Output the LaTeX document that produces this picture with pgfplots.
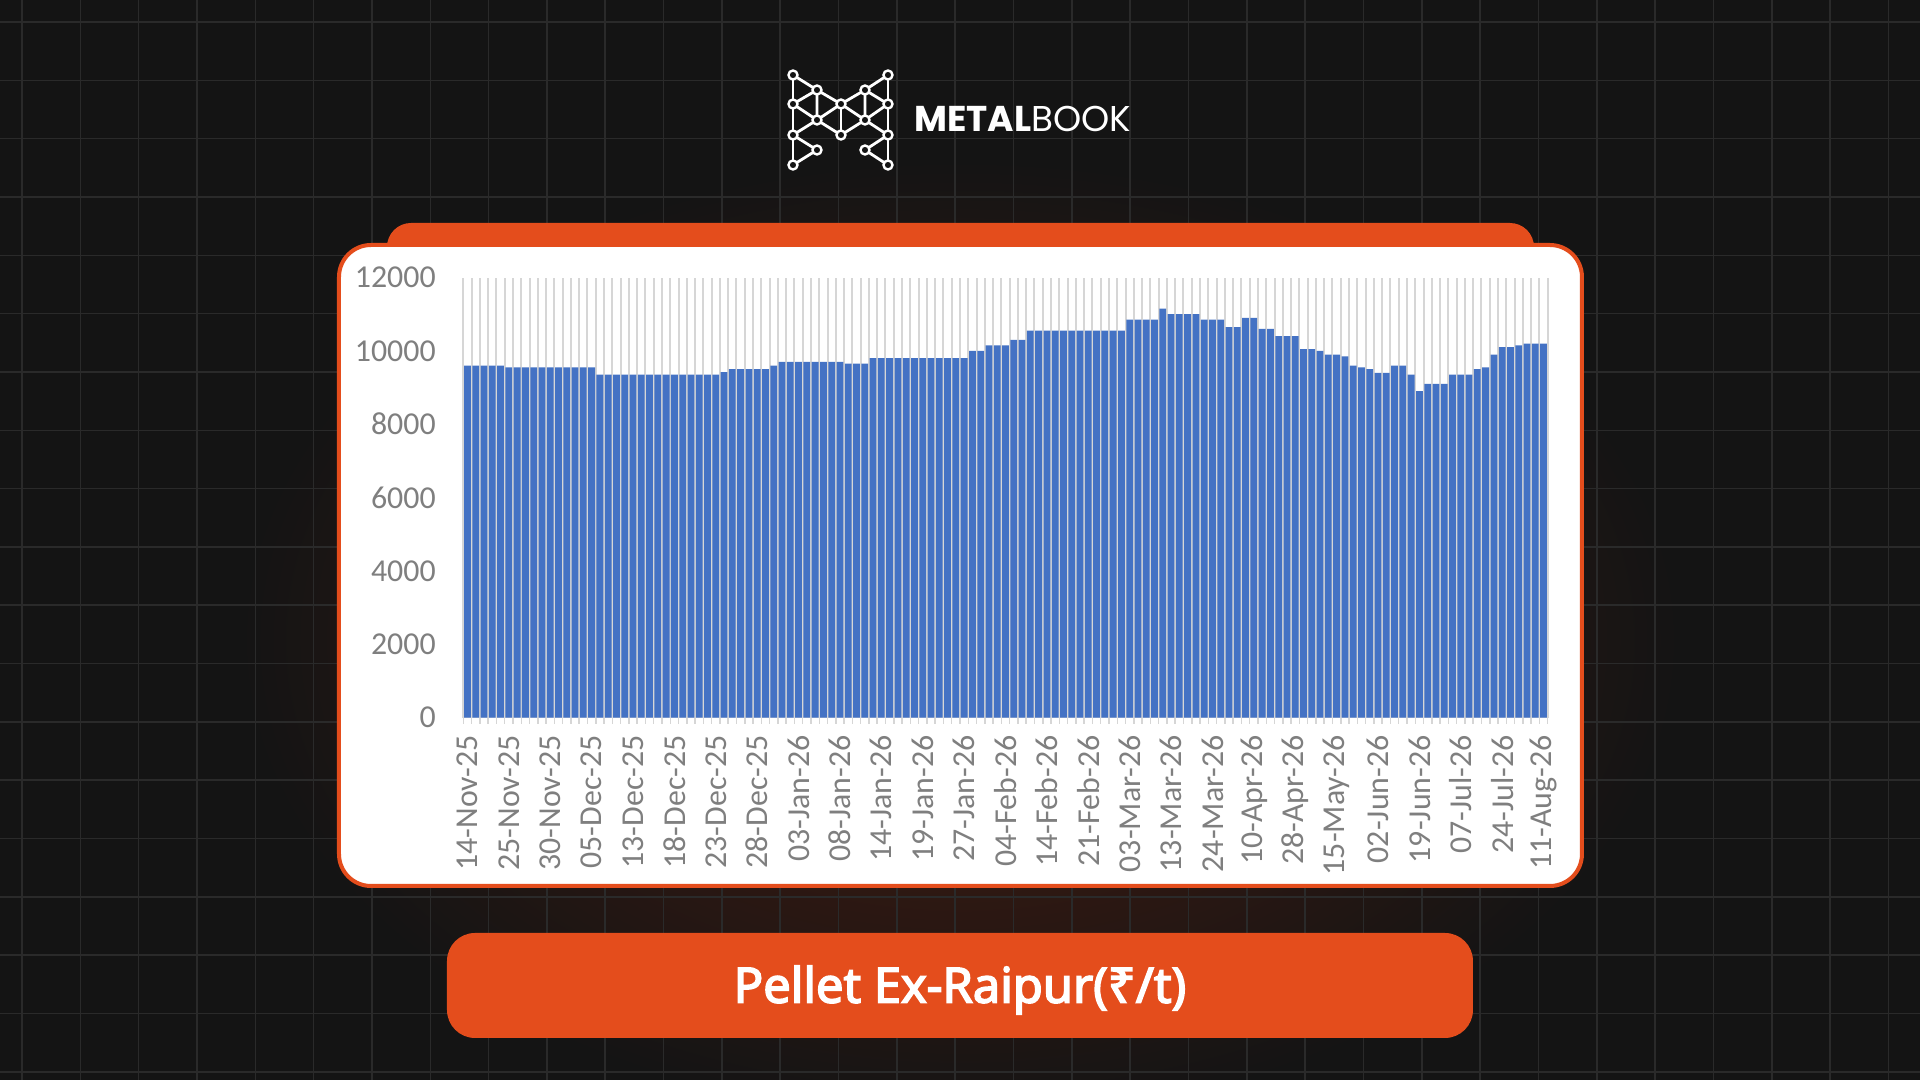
\documentclass[border=0pt]{standalone}
\usepackage{fontspec}
\usepackage{pgfplots}
\usepackage{pgfplotstable}
\pgfplotsset{compat=1.18}
\setmainfont{Carlito}
\newfontfamily\carlito{Carlito}
\newfontfamily\titlefont[FakeBold=3.2]{Noto Sans}
\newfontfamily\logofont{Poppins}
\definecolor{bg}{HTML}{141414}
\definecolor{gridc}{HTML}{2A2A2A}
\definecolor{orng}{HTML}{E44D1C}
\definecolor{barblue}{HTML}{4472C4}
\definecolor{tickgray}{HTML}{7F7F7F}
\definecolor{glow}{HTML}{4A1C10}
\definecolor{vgrid}{HTML}{D6D6D6}

\pgfplotstableread{
i v
0 9600
1 9600
2 9600
3 9600
4 9600
5 9550
6 9550
7 9550
8 9550
9 9550
10 9550
11 9550
12 9550
13 9550
14 9550
15 9550
16 9350
17 9350
18 9350
19 9350
20 9350
21 9350
22 9350
23 9350
24 9350
25 9350
26 9350
27 9350
28 9350
29 9350
30 9350
31 9420
32 9500
33 9500
34 9500
35 9500
36 9500
37 9600
38 9700
39 9700
40 9700
41 9700
42 9700
43 9700
44 9700
45 9700
46 9650
47 9650
48 9650
49 9800
50 9800
51 9800
52 9800
53 9800
54 9800
55 9800
56 9800
57 9800
58 9800
59 9800
60 9800
61 10000
62 10000
63 10150
64 10150
65 10150
66 10300
67 10300
68 10550
69 10550
70 10550
71 10550
72 10550
73 10550
74 10550
75 10550
76 10550
77 10550
78 10550
79 10550
80 10850
81 10850
82 10850
83 10850
84 11150
85 11000
86 11000
87 11000
88 11000
89 10850
90 10850
91 10850
92 10650
93 10650
94 10900
95 10900
96 10600
97 10600
98 10400
99 10400
100 10400
101 10050
102 10050
103 10000
104 9900
105 9900
106 9850
107 9600
108 9550
109 9500
110 9400
111 9400
112 9600
113 9600
114 9350
115 8900
116 9100
117 9100
118 9100
119 9350
120 9350
121 9350
122 9500
123 9550
124 9900
125 10100
126 10100
127 10150
128 10200
129 10200
130 10200
}\pricedata

\begin{document}
\begin{tikzpicture}
\useasboundingbox (0,0) rectangle (960bp,-540bp);
\begin{scope}[x=0.5bp,y=-0.5bp]
  \fill[bg] (0,0) rectangle (1920,1080);
  \shade[inner color=glow, outer color=bg] (960,640) ellipse [x radius=720, y radius=480];
  \foreach \i in {0,...,32} {\draw[gridc, line width=0.8bp] ({22+58.33*\i},0) -- ({22+58.33*\i},1080);}
  \foreach \j in {0,...,18} {\draw[gridc, line width=0.8bp] (0,{22+58.33*\j}) -- (1920,{22+58.33*\j});}
  % logo
  \coordinate (L1) at (793,75); \coordinate (L2) at (793,104); \coordinate (L3) at (793,135); \coordinate (L4) at (793,165);
  \coordinate (A1) at (817,90); \coordinate (A2) at (817,120); \coordinate (A3) at (817,150);
  \coordinate (C1) at (841,104); \coordinate (C2) at (841,135);
  \coordinate (B1) at (865,90); \coordinate (B2) at (865,120); \coordinate (B3) at (865,150);
  \coordinate (R1) at (888,75); \coordinate (R2) at (888,104); \coordinate (R3) at (888,135); \coordinate (R4) at (888,165);
  \begin{scope}[white, line width=1.4bp]
    \draw (L1)--(L2)--(L3)--(L4);
    \draw (R1)--(R2)--(R3)--(R4);
    \draw (L1)--(A1)--(C1)--(B1)--(R1);
    \draw (L2)--(A1)--(A2)--(L2);
    \draw (R2)--(B1)--(B2)--(R2);
    \draw (A2)--(C1)--(B2);
    \draw (A2)--(C2)--(B2);
    \draw (C1)--(C2);
    \draw (A2)--(L3)--(A3)--(L4);
    \draw (B2)--(R3)--(B3)--(R4);
  \end{scope}
  \foreach \n in {L1,L2,L3,L4,A1,A2,A3,C1,C2,B1,B2,B3,R1,R2,R3,R4} {\filldraw[draw=white, fill=bg, line width=1.2bp] (\n) circle[radius=4.5];}
  \node[anchor=base west, inner sep=0pt, text=white, font=\logofont\fontsize{18}{20}\selectfont] at (914,131.7) {\textbf{METAL}BOOK};
  % card
  \fill[orng, rounded corners=12bp] (387,223) rectangle (1534,300);
  \draw[orng, line width=2bp, fill=white, rounded corners=16bp] (339,245) rectangle (1582,886);
  % banner
  \fill[orng, rounded corners=14bp] (447,933) rectangle (1473,1038);
  \node[text=white, font=\titlefont\fontsize{24.5}{28}\selectfont] at (960,990) {Pellet Ex-Raipur(₹/t)};
\end{scope}
\begin{axis}[
  at={(231.65bp,-358.75bp)}, anchor=south west,
  scale only axis, width=542.2bp, height=220bp,
  xmin=-0.5, xmax=130.5, ymin=0, ymax=12000,
  ybar, bar width=0.82,
  axis x line*=bottom, axis y line*=left,
  y axis line style={draw=none},
  x axis line style={draw=vgrid, line width=0.75bp},
  ytick={0,2000,4000,6000,8000,10000,12000},
  yticklabels={0,2000,4000,6000,8000,10000,12000},
  scaled y ticks=false,
  xtick={0,5,...,130},
  xticklabels={14-Nov-25,25-Nov-25,30-Nov-25,05-Dec-25,13-Dec-25,18-Dec-25,23-Dec-25,28-Dec-25,03-Jan-26,08-Jan-26,14-Jan-26,19-Jan-26,27-Jan-26,04-Feb-26,14-Feb-26,21-Feb-26,03-Mar-26,13-Mar-26,24-Mar-26,10-Apr-26,28-Apr-26,15-May-26,02-Jun-26,19-Jun-26,07-Jul-26,24-Jul-26,11-Aug-26},
  minor xtick={-0.5,0.5,...,130.5},
  xminorgrids=true,
  minor grid style={draw=vgrid, line width=1bp},
  major tick length=0pt, minor tick length=3bp,
  tick align=outside,
  minor tick style={draw=vgrid, line width=0.75bp},
  ticklabel style={font=\carlito\fontsize{16}{16}\selectfont, text=tickgray},
  xticklabel style={rotate=90, anchor=east, inner sep=0pt},
  yticklabel style={anchor=east, inner sep=0pt},
  xticklabel shift=8.75bp, yticklabel shift=13.6bp,
  /pgf/number format/assume math mode=true,
]
\addplot[fill=barblue, draw=none] table[x=i, y=v] {\pricedata};
\end{axis}
\end{tikzpicture}
\end{document}
